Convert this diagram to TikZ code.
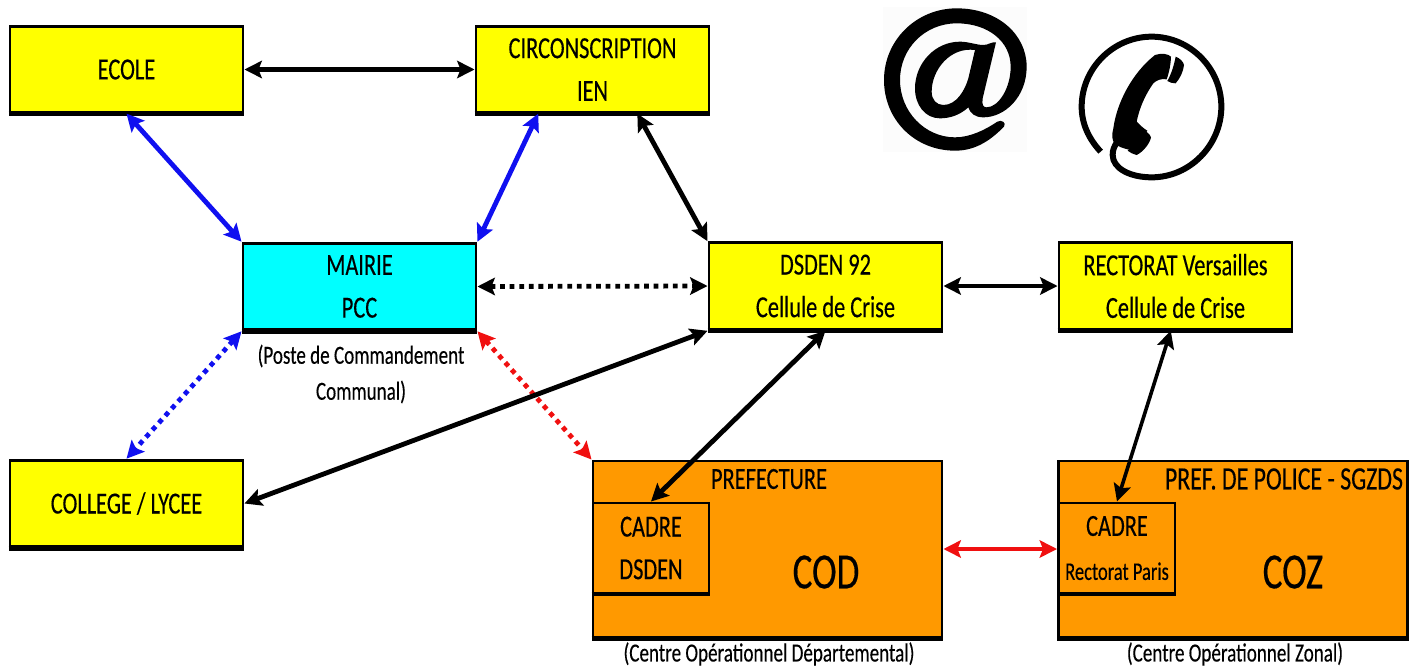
\documentclass[tikz,border=0pt]{standalone}
\usepackage{fontspec}
\setmainfont{Carlito}
\newfontfamily\narrowfont[FakeStretch=0.73,FakeBold=0.3]{Carlito}
\usetikzlibrary{arrows.meta,calc}
\definecolor{boxyellow}{HTML}{FFFF00}
\definecolor{boxcyan}{HTML}{00FFFF}
\definecolor{boxorange}{HTML}{FF9900}
\definecolor{linkblue}{HTML}{1010F0}
\definecolor{linkred}{HTML}{F01010}
\tikzset{
  box/.style={draw=black,line width=2.2pt,inner sep=0pt,align=center,
    font=\narrowfont\fontsize{23}{32}\selectfont},
  ybox/.style={box,fill=boxyellow,minimum width=174.75pt,minimum height=64pt},
  cbox/.style={box,fill=boxcyan,minimum width=174.75pt,minimum height=65pt},
  obox/.style={box,fill=boxorange,minimum width=261.75pt,minimum height=132pt},
  ibox/.style={box,fill=boxorange,minimum width=87pt,minimum height=67.5pt},
  caption/.style={inner sep=0pt,align=center,font=\narrowfont\fontsize{19.6}{27}\selectfont},
  title/.style={inner sep=0pt,font=\narrowfont\fontsize{23}{28}\selectfont},
  big/.style={inner sep=0pt,font=\narrowfont\fontsize{38}{40}\selectfont},
  link/.style={line width=3.6pt,{Stealth[length=13pt,width=13pt,inset=2.5pt]}-{Stealth[length=13pt,width=13pt,inset=2.5pt]}},
  thin link/.style={link,line width=2.7pt},
  dots/.style={link,dash pattern=on 3.6pt off 3.6pt},
  foot/.style={line width=3.6pt,line cap=butt},
}
\begin{document}
\begin{tikzpicture}[x=0.75pt,y=-0.75pt]
\useasboundingbox (0,0) rectangle (1414,668);
% boxes
\node[ybox] (ecole) at (126.5,69.5) {ECOLE};
\node[ybox] (circ) at (592.5,69.5) {CIRCONSCRIPTION\\IEN};
\node[cbox] (mairie) at (359.5,286.5) {MAIRIE\\PCC};
\node[ybox,minimum height=65pt] (dsden) at (825.5,286) {DSDEN 92\\Cellule de Crise};
\node[ybox,minimum height=65pt] (rectorat) at (1175.5,286) {RECTORAT Versailles\\Cellule de Crise};
\node[ybox,minimum height=65pt] (college) at (126.5,503.5) {COLLEGE / LYCEE};
\node[obox] (prefecture) at (767.5,549) {};
\node[obox] (police) at (1233,549) {};
\node[ibox] (cadreA) at (651,548) {CADRE\\DSDEN};
\node[ibox] (cadreB) at (1117,548) {CADRE\\[1pt]{\fontsize{19}{24}\selectfont Rectorat Paris}};
% thick lower edges
\foreach \n in {ecole,circ,mairie,dsden,rectorat,college,prefecture,police}
  \draw[foot] (\n.south west) -- (\n.south east);
\draw[line width=3pt] (cadreA.south west) -- (cadreA.south east);
\draw[line width=3pt] (cadreB.south west) -- (cadreB.south east);
% labels
\node[title] (tprefecture) at (769,479) {PREFECTURE};
\node[title,font=\narrowfont\fontsize{24.5}{28}\selectfont] (tpolice) at (1284,479) {PREF. DE POLICE - SGZDS};
\node[big] (cod) at (826,572) {COD};
\node[big] (coz) at (1293,572) {COZ};
\node[caption] (pcc) at (361,374) {(Poste de Commandement\\Communal)};
\node[caption] (dep) at (769,654) {(Centre Opérationnel Départemental)};
\node[caption] (zon) at (1235,654) {(Centre Opérationnel Zonal)};
% connectors
\draw[link] (ecole.east) -- (circ.west);
\draw[link,color=linkblue] (ecole.south) -- (mairie.north west);
\draw[link,color=linkblue] ($(circ.south west)!0.27!(circ.south east)$) -- (mairie.north east);
\draw[link] ($(circ.south west)!0.69!(circ.south east)$) -- (dsden.north west);
\draw[link,dots] (mairie.east) -- (dsden.west);
\draw[link] (dsden.east) -- (rectorat.west);
\draw[link,dots,color=linkblue] (mairie.south west) -- (college.north);
\draw[link,dots,color=linkred] (mairie.south east) -- (prefecture.north west);
\draw[link] (college.east) -- (dsden.south west);
\draw[link] (dsden.south) -- (cadreA.north);
\draw[thin link] ($(rectorat.south west)!0.48!(rectorat.south east)$) -- (cadreB.north);
\draw[link,color=linkred] (prefecture.east) -- (police.west);
% at sign picture
\begin{scope}[shift={(860,0)},x=0.25pt,y=-0.25pt]
\fill[black!1] (70,22) rectangle (502,455);
\fill[black,even odd rule]
 (432,380) .. controls (385,428) and (340,452) .. (285,452)
 .. controls (165,452) and (72,360) .. (72,240)
 .. controls (72,120) and (170,25) .. (290,25)
 .. controls (415,25) and (500,105) .. (500,200)
 .. controls (500,290) and (435,352) .. (370,352)
 .. controls (345,352) and (330,340) .. (325,322)
 .. controls (300,345) and (270,355) .. (240,355)
 .. controls (195,355) and (165,315) .. (165,265)
 .. controls (165,190) and (225,125) .. (300,125)
 .. controls (325,125) and (350,135) .. (370,135)
 .. controls (385,135) and (395,125) .. (408,127)
 -- (368,295)
 .. controls (365,315) and (370,322) .. (380,322)
 .. controls (415,322) and (452,265) .. (452,200)
 .. controls (452,125) and (385,70) .. (290,70)
 .. controls (195,70) and (120,145) .. (120,240)
 .. controls (120,335) and (195,412) .. (285,412)
 .. controls (330,412) and (375,390) .. (412,365)
 .. controls (425,358) and (440,368) .. (432,380) -- cycle
 (345,150) .. controls (270,140) and (215,210) .. (215,275)
 .. controls (215,300) and (230,315) .. (250,315)
 .. controls (290,315) and (315,270) .. (325,235) -- cycle;
% telephone picture
\draw[line width=4.5pt]
 (722,455) .. controls (685,415) and (665,370) .. (665,320)
 .. controls (665,205) and (760,110) .. (875,110)
 .. controls (990,110) and (1084,205) .. (1084,320)
 .. controls (1084,435) and (990,532) .. (875,532)
 .. controls (810,532) and (758,505) .. (758,465)
 .. controls (758,450) and (762,440) .. (772,425);
\fill[black] (885,165) .. controls (905,158) and (925,162) .. (933,170)
 .. controls (932,195) and (928,215) .. (920,238)
 .. controls (905,235) and (890,240) .. (880,250)
 .. controls (855,285) and (838,325) .. (830,365)
 .. controls (840,375) and (850,385) .. (862,392)
 .. controls (850,415) and (830,435) .. (810,450)
 .. controls (790,445) and (775,440) .. (765,432)
 .. controls (755,420) and (755,405) .. (760,385)
 .. controls (770,310) and (815,220) .. (885,165) -- cycle;
\fill[black] (947,170) .. controls (960,175) and (970,185) .. (972,195)
 .. controls (970,215) and (960,235) .. (947,250)
 .. controls (938,250) and (930,248) .. (922,243)
 .. controls (935,220) and (942,195) .. (947,170) -- cycle;
\fill[black] (850,390) .. controls (860,395) and (870,402) .. (873,412)
 .. controls (870,430) and (850,455) .. (830,465)
 .. controls (820,463) and (810,458) .. (803,452)
 .. controls (825,435) and (840,415) .. (850,390) -- cycle;
\end{scope}
\end{tikzpicture}
\end{document}
